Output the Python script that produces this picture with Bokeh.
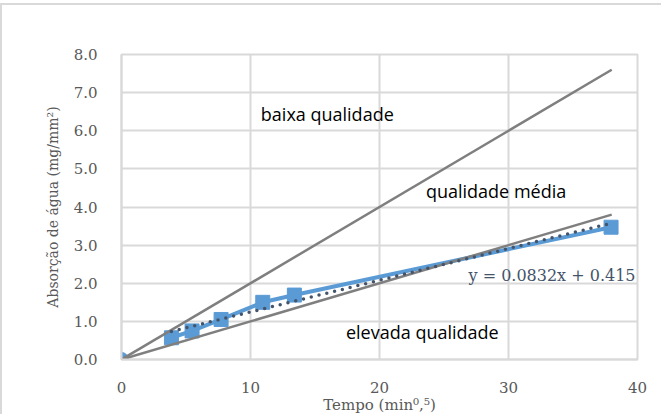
from bokeh.plotting import figure
from bokeh.models import Range1d, FixedTicker, Label, ColumnDataSource, CustomJSTickFormatter
from bokeh.embed import file_html
from bokeh.resources import INLINE

# data
tempo = [3.87, 5.47, 7.72, 10.95, 13.40, 37.95]
absorcao = [0.57, 0.75, 1.05, 1.50, 1.69, 3.47]
origem_x = [0]
origem_y = [0]
trend_slope = 0.0832
trend_intercept = 0.415
ref_x = [0, 38]
baixa_slope = 0.2
media_slope = 0.1
x_ticks = [0, 10, 20, 30, 40]
y_ticks = [0, 1, 2, 3, 4, 5, 6, 7, 8]

SERIF = "DejaVu Serif"
SANS = "Open Sans"

p = figure(width=661, height=411, output_backend="svg", toolbar_location=None,
           x_range=Range1d(0, 40), y_range=Range1d(0, 8),
           min_border_left=119, min_border_right=26, min_border_top=49, min_border_bottom=40)
p.styles = {"border-top": "2px solid #d9d9d9", "border-left": "2px solid #d9d9d9",
            "margin-top": "3px"}

p.outline_line_color = "#d9d9d9"
p.outline_line_width = 2
p.xgrid.grid_line_color = "#d9d9d9"
p.ygrid.grid_line_color = "#d9d9d9"
p.xgrid.grid_line_width = 2
p.ygrid.grid_line_width = 2

for ax in (p.xaxis[0], p.yaxis[0]):
    ax.axis_line_color = "#d9d9d9"
    ax.axis_line_width = 2
    ax.major_tick_line_color = None
    ax.minor_tick_line_color = None
    ax.major_label_text_font = SERIF
    ax.major_label_text_font_size = "15px"
    ax.major_label_text_color = "#595959"
    ax.axis_label_text_font = SERIF
    ax.axis_label_text_color = "#595959"
    ax.axis_label_text_font_style = "normal"

p.xaxis.axis_label_text_font_size = "15px"
p.yaxis.axis_label_text_font_size = "14px"
p.xaxis.ticker = FixedTicker(ticks=x_ticks)
p.yaxis.ticker = FixedTicker(ticks=y_ticks)
p.yaxis.formatter = CustomJSTickFormatter(code="return tick.toFixed(1);")
p.xaxis.major_label_standoff = 16
p.yaxis.major_label_standoff = 18
p.xaxis.axis_label = "Tempo (min\u2070,\u2075)"
p.yaxis.axis_label = "Absor\u00e7\u00e3o de \u00e1gua (mg/mm\u00b2)"
p.xaxis.axis_label_standoff = 0
p.yaxis.axis_label_standoff = 10

# data series
src = ColumnDataSource(dict(x=tempo, y=absorcao))
p.line("x", "y", source=src, line_color="#5B9BD5", line_width=4)
p.scatter("x", "y", source=src, marker="square", size=14, fill_color="#5B9BD5",
          line_color="#5B9BD5")
p.scatter(origem_x, origem_y, marker="circle", size=14, fill_color="#5B9BD5",
          line_color="#5B9BD5")

# reference lines
p.line(ref_x, [baixa_slope * v for v in ref_x], line_color="#7f7f7f", line_width=2.5)
p.line(ref_x, [media_slope * v for v in ref_x], line_color="#7f7f7f", line_width=2.5)

# trendline
tx = [min(tempo), max(tempo)]
p.line(tx, [trend_slope * v + trend_intercept for v in tx], line_color="#44546A",
       line_width=3.5, line_dash="0 8", line_cap="round")

# labels
for txt, lx, ly in [("baixa qualidade", 10.8, 6.43),
                    ("qualidade m\u00e9dia", 23.6, 4.41),
                    ("elevada qualidade", 17.4, 0.71)]:
    p.add_layout(Label(x=lx, y=ly, text=txt, text_font=SANS, text_font_size="18px",
                       text_color="black", text_baseline="middle", text_align="left"))

p.add_layout(Label(x=26.9, y=2.2, text="y = 0.0832x + 0.415", text_font=SERIF,
                   text_font_size="16px", text_color="#44546A", text_baseline="middle",
                   text_align="left"))

open("out.html", "w").write(file_html(p, INLINE))
